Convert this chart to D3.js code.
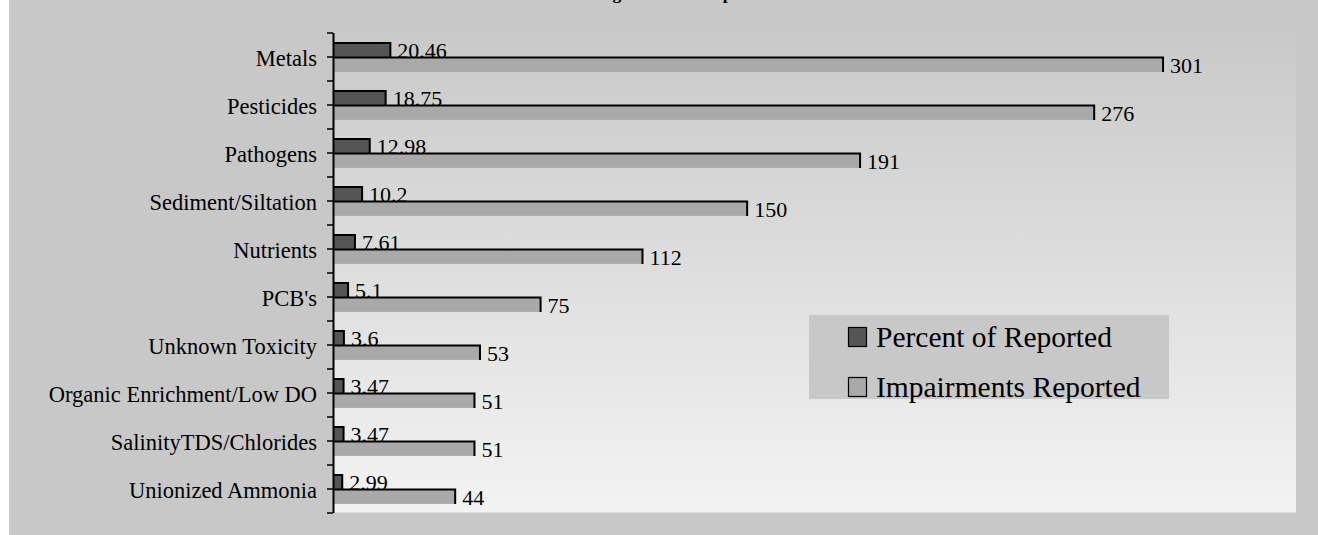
<!DOCTYPE html>
<html>
<head>
<meta charset="utf-8">
<script src="https://cdn.jsdelivr.net/npm/d3@7/dist/d3.min.js"></script>
<style>
  html, body { margin: 0; padding: 0; background: #ffffff; overflow: hidden; }
  svg { display: block; }
  text { font-family: "Liberation Serif", "Times New Roman", serif; fill: #000; }
</style>
</head>
<body>
<svg id="chart" width="1318" height="535"></svg>
<script>
// ---- data ----
const categories = ["Metals", "Pesticides", "Pathogens", "Sediment/Siltation", "Nutrients",
  "PCB's", "Unknown Toxicity", "Organic Enrichment/Low DO", "SalinityTDS/Chlorides", "Unionized Ammonia"];
const percentOfReported = [20.46, 18.75, 12.98, 10.2, 7.61, 5.1, 3.6, 3.47, 3.47, 2.99];
const impairmentsReported = [301, 276, 191, 150, 112, 75, 53, 51, 51, 44];
const seriesNames = ["Percent of Reported", "Impairments Reported"];
const seriesColors = ["#555555", "#a9a9a9"];
const xMax = 350;
const titleText = "Leading Causes of Impairment";

// ---- layout ----
const W = 1318, H = 535;
const plot = { left: 334, right: 1296, top: 32.5, bottom: 512.5 };

const svg = d3.select("#chart");

// outer background
svg.append("rect").attr("x", 0).attr("y", 0).attr("width", W).attr("height", H).attr("fill", "#ffffff");
svg.append("rect").attr("x", 9).attr("y", 0).attr("width", W - 9).attr("height", H).attr("fill", "#c8c8c8");

// title (cropped at the top edge, as in the reference)
svg.append("text").attr("x", 560).attr("y", -1)
  .attr("font-size", 17.5).attr("font-weight", "bold").text(titleText);

// plot background gradient
const defs = svg.append("defs");
const grad = defs.append("linearGradient").attr("id", "plotGrad")
  .attr("x1", 0).attr("y1", 0).attr("x2", 0).attr("y2", 1);
grad.append("stop").attr("offset", "0%").attr("stop-color", "#c9c9c9");
grad.append("stop").attr("offset", "100%").attr("stop-color", "#f3f3f3");

svg.append("rect")
  .attr("x", plot.left - 1).attr("y", plot.top)
  .attr("width", plot.right - plot.left + 1).attr("height", plot.bottom - plot.top)
  .attr("fill", "url(#plotGrad)");

// scales
const x = d3.scaleLinear().domain([0, xMax]).range([plot.left, 1298]);
const y = d3.scaleBand().domain(categories).range([plot.top, plot.bottom])
  .paddingInner(0.4).paddingOuter(0.2);
const ySub = d3.scaleBand().domain([0, 1]).range([0, y.bandwidth()]);
const yTicks = d3.scaleLinear().domain([0, categories.length]).range([plot.top, plot.bottom]);

const rows = categories.map((c, i) => ({ cat: c, vals: [percentOfReported[i], impairmentsReported[i]] }));

// bars
const g = svg.append("g");
rows.forEach(r => {
  r.vals.forEach((v, s) => {
    const y0 = y(r.cat) + ySub(s) + 1;
    const h = ySub.bandwidth();
    g.append("rect")
      .attr("x", x(0)).attr("y", y0)
      .attr("width", x(v) - x(0)).attr("height", h)
      .attr("fill", seriesColors[s]);
    g.append("path")
      .attr("d", `M${x(0)},${y0}H${x(v)}V${y0 + h}`)
      .attr("fill", "none").attr("stroke", "#000").attr("stroke-width", 2);
    g.append("text")
      .attr("x", x(v) + 7).attr("y", y0 + h / 2)
      .attr("dy", "0.36em")
      .attr("font-size", 22)
      .text(String(v));
  });
});

// axis (ticks at category boundaries and centres)
const axis = d3.axisLeft(yTicks)
  .tickValues(d3.range(0, categories.length + 0.01, 0.5))
  .tickFormat("")
  .tickSize(6)
  .tickSizeOuter(0);
const ax = svg.append("g").attr("transform", `translate(${plot.left - 1},0)`).call(axis);
ax.select(".domain").attr("stroke", "#000").attr("stroke-width", 2);
ax.selectAll(".tick line").attr("stroke", "#000").attr("stroke-width", 1.5);

// category labels
svg.append("g").selectAll("text").data(categories).join("text")
  .attr("x", 317)
  .attr("y", d => y(d) + y.bandwidth() / 2 + 1)
  .attr("dy", "0.36em")
  .attr("text-anchor", "end")
  .attr("font-size", 22.5)
  .text(d => d);

// legend
const lg = svg.append("g");
lg.append("rect").attr("x", 809).attr("y", 315).attr("width", 360).attr("height", 84).attr("fill", "#c8c8c8");
seriesNames.forEach((name, i) => {
  const cy = 337 + i * 50;
  lg.append("rect").attr("x", 848.5).attr("y", cy - 9.5).attr("width", 18).attr("height", 19)
    .attr("fill", seriesColors[i]).attr("stroke", "#000").attr("stroke-width", 1.2);
  lg.append("text").attr("x", 876).attr("y", cy).attr("dy", "0.34em")
    .attr("font-size", 29.5).text(name);
});
</script>
</body>
</html>
